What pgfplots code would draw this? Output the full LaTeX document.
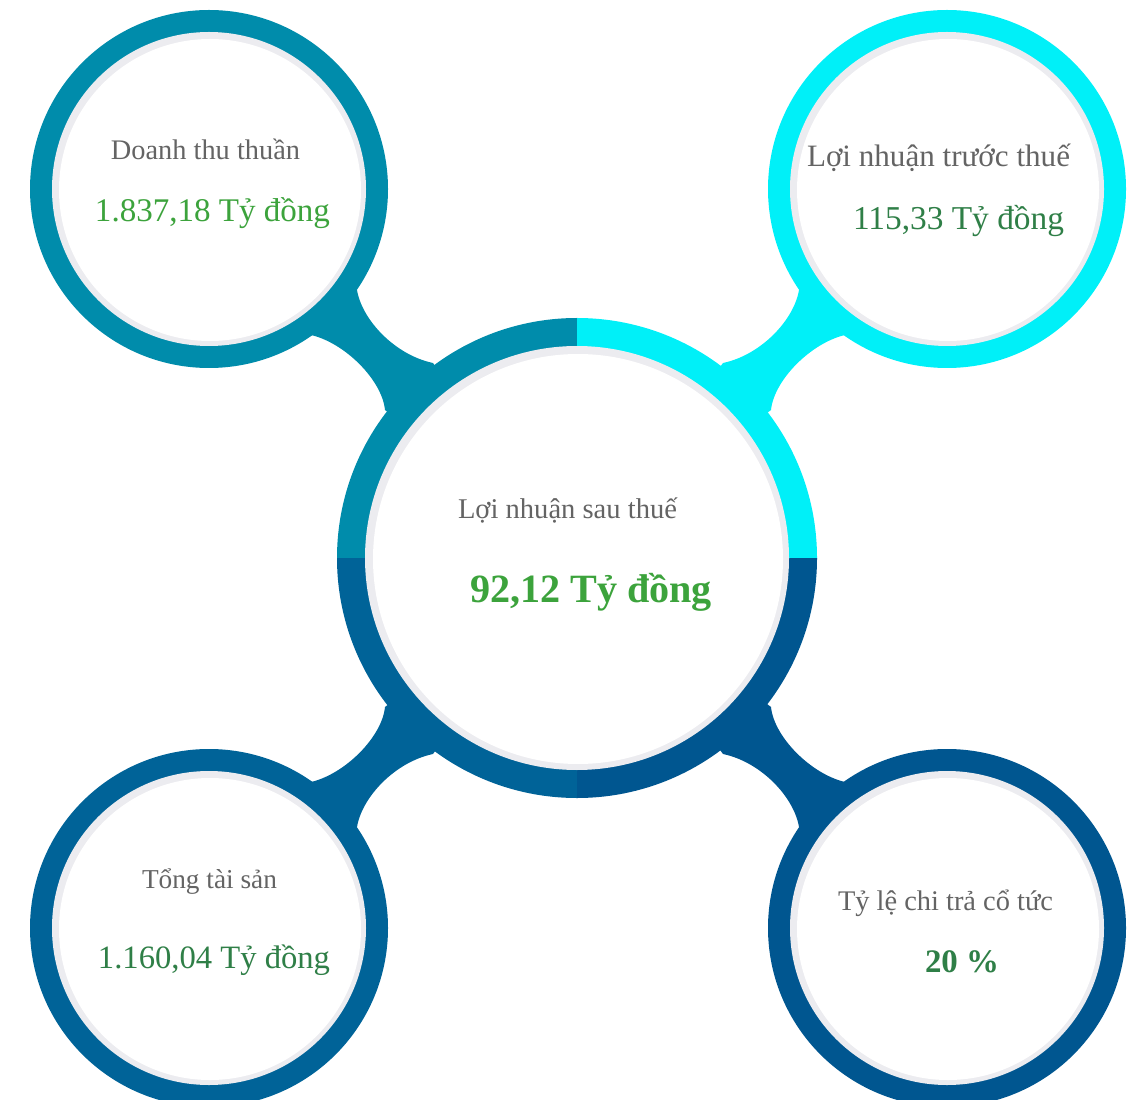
\documentclass[border=0pt]{standalone}
\usepackage{graphicx}
\usepackage{fontspec}
\setmainfont{Liberation Serif}
\usepackage{pgfplots}
\pgfplotsset{compat=1.18}
\definecolor{cTL}{RGB}{0,140,171}
\definecolor{cTR}{RGB}{0,240,248}
\definecolor{cBL}{RGB}{0,99,152}
\definecolor{cBR}{RGB}{0,86,144}
\definecolor{ringgray}{RGB}{236,236,240}
\definecolor{lbl}{RGB}{100,100,100}
\definecolor{gBright}{RGB}{60,163,60}
\definecolor{gDark}{RGB}{47,127,71}
\begin{document}
\begin{tikzpicture}
\begin{axis}[hide axis, scale only axis, width=569.5pt, height=549.5pt,
  xmin=0, xmax=1139, ymin=0, ymax=1099, clip=true]
% connectors
\fill[cTL] (357,809) .. controls (362,779) and (395,744) .. (433,736) -- (577,541)
  -- (385,689) .. controls (382,719) and (345,756) .. (311,764) -- (209,910) -- cycle;
\fill[cTR] (799,809) .. controls (794,779) and (761,744) .. (723,736) -- (577,541)
  -- (771,689) .. controls (774,719) and (811,756) .. (845,764) -- (947,910) -- cycle;
\fill[cBL] (357,272) .. controls (362,302) and (395,337) .. (433,345) -- (577,541)
  -- (385,392) .. controls (382,362) and (345,325) .. (311,317) -- (209,171) -- cycle;
\fill[cBR] (799,272) .. controls (794,302) and (761,337) .. (723,345) -- (577,541)
  -- (771,392) .. controls (774,362) and (811,325) .. (845,317) -- (947,171) -- cycle;
% corner circles
\fill[cTL] (209,910) circle[radius=179];
\fill[cTR] (947,910) circle[radius=179];
\fill[cBL] (209,171) circle[radius=179];
\fill[cBR] (947,171) circle[radius=179];
% center quadrants
\begin{scope}\clip (0,541) rectangle (577,1099); \fill[cTL] (577,541) circle[radius=240];\end{scope}
\begin{scope}\clip (577,541) rectangle (1139,1099); \fill[cTR] (577,541) circle[radius=240];\end{scope}
\begin{scope}\clip (0,0) rectangle (577,541); \fill[cBL] (577,541) circle[radius=240];\end{scope}
\begin{scope}\clip (577,0) rectangle (1139,541); \fill[cBR] (577,541) circle[radius=240];\end{scope}
% gray rings
\fill[ringgray] (209,910) circle[radius=157];
\fill[ringgray] (947,910) circle[radius=157];
\fill[ringgray] (209,171) circle[radius=157];
\fill[ringgray] (947,171) circle[radius=157];
\fill[ringgray] (577,541) circle[radius=212];
% white
\fill[white] (210,909) circle[radius=151];
\fill[white] (948,909) circle[radius=151];
\fill[white] (210,170) circle[radius=151];
\fill[white] (948,170) circle[radius=151];
\fill[white] (578,540) circle[radius=205];
% texts
\node[anchor=base, inner sep=0pt, text=lbl] at (205.5,939) {\resizebox{94.5pt}{!}{\fontsize{20}{24}\selectfont Doanh thu thuần}};
\node[anchor=base, inner sep=0pt, text=gBright] at (212.5,877) {\resizebox{117.5pt}{!}{\fontsize{20}{24}\selectfont 1.837,18 Tỷ đồng}};
\node[anchor=base, inner sep=0pt, text=lbl] at (938.5,932) {\resizebox{131.5pt}{!}{\fontsize{20}{24}\selectfont Lợi nhuận trước thuế}};
\node[anchor=base, inner sep=0pt, text=gDark] at (958.5,869) {\resizebox{105.5pt}{!}{\fontsize{20}{24}\selectfont 115,33 Tỷ đồng}};
\node[anchor=base, inner sep=0pt, text=lbl] at (567.5,581) {\resizebox{109.5pt}{!}{\fontsize{20}{24}\selectfont Lợi nhuận sau thuế}};
\node[anchor=base, inner sep=0pt, text=gBright] at (591,497) {\resizebox{121pt}{!}{\fontsize{20}{24}\selectfont\bfseries 92,12 Tỷ đồng}};
\node[anchor=base, inner sep=0pt, text=lbl] at (209.5,211) {\resizebox{67.5pt}{!}{\fontsize{20}{24}\selectfont Tổng tài sản}};
\node[anchor=base, inner sep=0pt, text=gDark] at (214,131) {\resizebox{116pt}{!}{\fontsize{20}{24}\selectfont 1.160,04 Tỷ đồng}};
\node[anchor=base, inner sep=0pt, text=lbl] at (945.5,189) {\resizebox{107.5pt}{!}{\fontsize{20}{24}\selectfont Tỷ lệ chi trả cổ tức}};
\node[anchor=base, inner sep=0pt, text=gDark] at (962,127) {\resizebox{37pt}{!}{\fontsize{20}{24}\selectfont\bfseries 20 \%}};
\end{axis}
\pgfresetboundingbox
\path[use as bounding box] (current axis.south west) rectangle (current axis.north east);
\end{tikzpicture}
\end{document}
